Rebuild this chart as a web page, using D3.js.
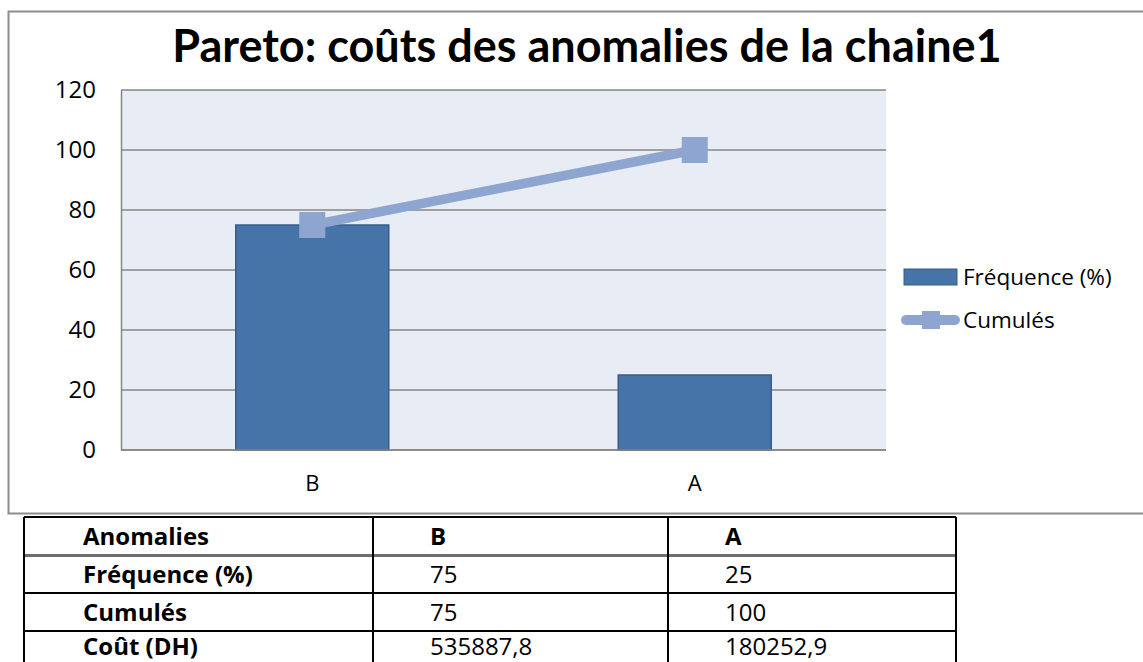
<!DOCTYPE html>
<html>
<head>
<meta charset="utf-8">
<script src="https://cdn.jsdelivr.net/npm/d3@7"></script>
<style>
  html, body { margin: 0; padding: 0; background: #ffffff; }
  svg { display: block; }
</style>
</head>
<body>
<svg id="chart" width="1143" height="662"></svg>
<script>
// ---- data ----
const title = "Pareto: coûts des anomalies de la chaine1";
const categories = ["B", "A"];
const frequence = [75, 25];
const cumules = [75, 100];
const couts = ["535887,8", "180252,9"];
const yTicks = [0, 20, 40, 60, 80, 100, 120];
const seriesNames = ["Fréquence (%)", "Cumulés"];
const tableHeader = "Anomalies";
const rowLabels = ["Fréquence (%)", "Cumulés", "Coût (DH)"];

// ---- layout ----
const svg = d3.select("#chart");
const plot = { left: 121, right: 886, top: 90, bottom: 450 };
const barFill = "#4774a8", barStroke = "#385d8a";
const lineColor = "#8ea6cf";
const plotBg = "#e8ecf4";
const gridColor = "#868686";
const font = "'Open Sans', 'DejaVu Sans', sans-serif";

// chart frame
svg.append("rect")
  .attr("x", 8.5).attr("y", 11.5)
  .attr("width", 1160).attr("height", 502)
  .attr("fill", "#fff").attr("stroke", "#8c8c8c").attr("stroke-width", 2);

// title
svg.append("text")
  .attr("x", 587).attr("y", 62)
  .attr("text-anchor", "middle")
  .attr("font-family", "Lato, 'Open Sans', sans-serif")
  .attr("font-weight", "bold")
  .attr("font-size", 45)
  .attr("fill", "#000")
  .text(title);

// scales
const x = d3.scaleBand().domain(categories)
  .range([plot.left, plot.right])
  .paddingInner(0.6).paddingOuter(0.3);
const xc = d3.scaleBand().domain(categories)
  .range([plot.left, plot.right]).padding(0);
const y = d3.scaleLinear().domain([0, 120]).range([plot.bottom, plot.top]);

// plot background
svg.append("rect")
  .attr("x", plot.left).attr("y", plot.top)
  .attr("width", plot.right - plot.left).attr("height", plot.bottom - plot.top)
  .attr("fill", plotBg);

// gridlines
svg.append("g").selectAll("line").data(yTicks).join("line")
  .attr("x1", plot.left).attr("x2", plot.right)
  .attr("y1", d => y(d)).attr("y2", d => y(d))
  .attr("stroke", gridColor).attr("stroke-width", 1.5);

// y axis
const yAxis = svg.append("g")
  .attr("transform", `translate(${plot.left},0)`)
  .call(d3.axisLeft(y).tickValues(yTicks).tickSize(0).tickPadding(25));
yAxis.select(".domain").attr("stroke", gridColor).attr("stroke-width", 1.5);
yAxis.selectAll("text")
  .attr("font-family", font).attr("font-size", 24).attr("fill", "#000");

// x axis labels
const xAxis = svg.append("g")
  .attr("transform", `translate(0,${plot.bottom})`)
  .call(d3.axisBottom(xc).tickSize(0).tickPadding(25));
xAxis.select(".domain").remove();
xAxis.selectAll("text")
  .attr("font-family", font).attr("font-size", 22).attr("fill", "#000");

// bars
svg.append("g").selectAll("rect").data(categories).join("rect")
  .attr("x", d => x(d))
  .attr("y", (d, i) => y(frequence[i]))
  .attr("width", x.bandwidth())
  .attr("height", (d, i) => y(0) - y(frequence[i]))
  .attr("fill", barFill).attr("stroke", barStroke).attr("stroke-width", 1.5);

// redraw baseline on top
svg.append("line")
  .attr("x1", plot.left).attr("x2", plot.right)
  .attr("y1", y(0)).attr("y2", y(0))
  .attr("stroke", gridColor).attr("stroke-width", 1.5);

// cumulative line
const line = d3.line()
  .x((d, i) => xc(categories[i]) + xc.bandwidth() / 2)
  .y(d => y(d));
svg.append("path").datum(cumules)
  .attr("d", line)
  .attr("fill", "none").attr("stroke", lineColor).attr("stroke-width", 9.5);
const mk = 26;
svg.append("g").selectAll("rect").data(cumules).join("rect")
  .attr("x", (d, i) => xc(categories[i]) + xc.bandwidth() / 2 - mk / 2)
  .attr("y", d => y(d) - mk / 2)
  .attr("width", mk).attr("height", mk)
  .attr("fill", lineColor);

// legend
const lg = svg.append("g");
lg.append("rect").attr("x", 904).attr("y", 269).attr("width", 53).attr("height", 16)
  .attr("fill", barFill).attr("stroke", barStroke).attr("stroke-width", 1);
lg.append("text").attr("x", 963).attr("y", 285)
  .attr("font-family", font).attr("font-size", 22.5).attr("fill", "#000")
  .text(seriesNames[0]);
lg.append("line").attr("x1", 906).attr("x2", 955).attr("y1", 320).attr("y2", 320)
  .attr("stroke", lineColor).attr("stroke-width", 10).attr("stroke-linecap", "round");
lg.append("rect").attr("x", 922).attr("y", 311).attr("width", 18).attr("height", 18)
  .attr("fill", lineColor);
lg.append("text").attr("x", 963).attr("y", 328)
  .attr("font-family", font).attr("font-size", 22.5).attr("fill", "#000")
  .text(seriesNames[1]);

// ---- table ----
const tb = svg.append("g");
const colX = [24, 373, 668, 956];
const rowY = [517, 555.5, 593, 631, 669];
const tableRows = [
  [tableHeader, ...categories],
  [rowLabels[0], ...frequence.map(String)],
  [rowLabels[1], ...cumules.map(String)],
  [rowLabels[2], ...couts]
];
tableRows.forEach((row, r) => {
  row.forEach((cell, c) => {
    tb.append("text")
      .attr("x", colX[c] + (c === 0 ? 59 : 57))
      .attr("y", rowY[r] + (r === 3 ? 24 : 27.5))
      .attr("font-family", font)
      .attr("font-size", 24)
      .attr("font-weight", (r === 0 || c === 0) ? "bold" : "normal")
      .attr("fill", "#000")
      .text(cell);
  });
});
// horizontal lines
[rowY[0], rowY[2], rowY[3], rowY[4]].forEach(yy => {
  tb.append("line").attr("x1", colX[0]).attr("x2", colX[3])
    .attr("y1", yy).attr("y2", yy).attr("stroke", "#000").attr("stroke-width", 2);
});
tb.append("line").attr("x1", colX[0]).attr("x2", colX[3])
  .attr("y1", rowY[1]).attr("y2", rowY[1]).attr("stroke", "#6e6e6e").attr("stroke-width", 3);
// vertical lines
colX.forEach(xx => {
  tb.append("line").attr("x1", xx).attr("x2", xx)
    .attr("y1", rowY[0]).attr("y2", rowY[4]).attr("stroke", "#000").attr("stroke-width", 2);
});
</script>
</body>
</html>
